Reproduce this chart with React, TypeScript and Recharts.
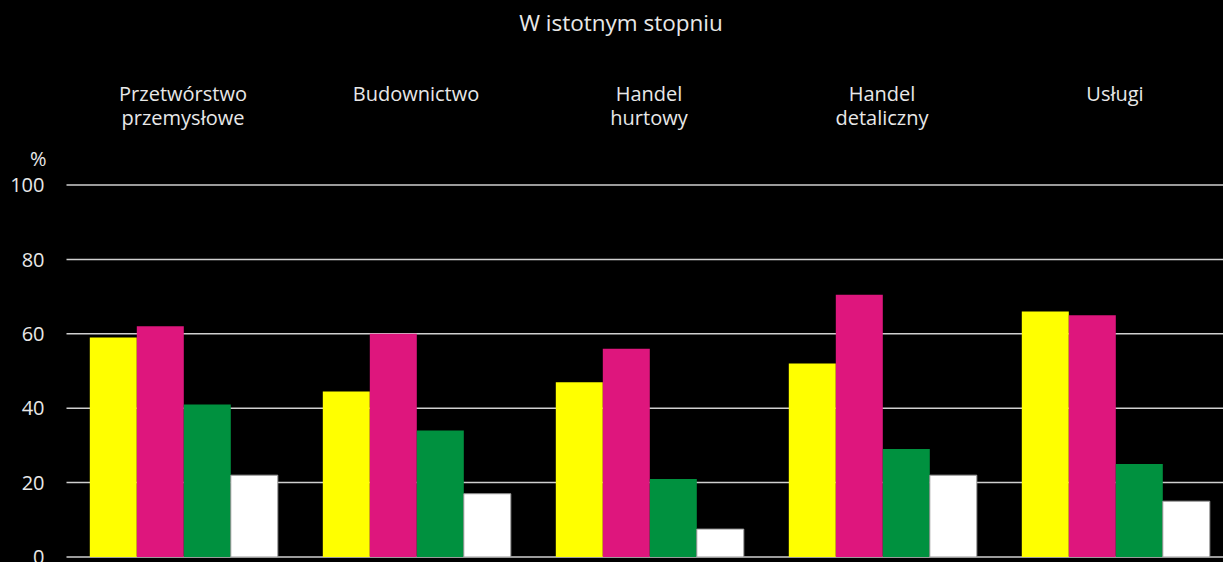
import React from 'react'
import { BarChart, Bar, XAxis, YAxis, CartesianGrid } from 'recharts'

// sectors (labels split into lines as in the original)
const sectors = ['Przetwórstwo\nprzemysłowe', 'Budownictwo', 'Handel\nhurtowy', 'Handel\ndetaliczny', 'Usługi']
const seriesA = [59, 44.5, 47, 52, 66]
const seriesB = [62, 60, 56, 70.5, 65]
const seriesC = [41, 34, 21, 29, 25]
const seriesD = [22, 17, 7.5, 22, 15]
const yTicks = [0, 20, 40, 60, 80, 100]

const data = sectors.map((s, i) => ({ name: s, a: seriesA[i], b: seriesB[i], c: seriesC[i], d: seriesD[i] }))

const font = '"Open Sans", sans-serif'
const txt = '#e8e8e8'

const SectorTick = (props: any) => {
  const { x, payload } = props
  const lines = String(payload.value).split('\n')
  return (
    <text x={x} y={101} textAnchor="middle" fill={txt} fontSize={20} fontFamily={font}>
      {lines.map((l, i) => (
        <tspan key={i} x={x} dy={i === 0 ? 0 : 24}>{l}</tspan>
      ))}
    </text>
  )
}

export default function App() {
  return (
    <div style={{ position: 'fixed', left: 0, top: 0, width: 1223, height: 562, overflow: 'hidden', background: '#000' }}>
      <div style={{ position: 'absolute', left: 0, width: 1242, top: 7, textAlign: 'center', color: txt, fontFamily: font, fontSize: 22.5 }}>
        W istotnym stopniu
      </div>
      <div style={{ position: 'absolute', left: 30, top: 145, color: txt, fontFamily: font, fontSize: 20 }}>%</div>
      <BarChart
        width={1240}
        height={600}
        data={data}
        margin={{ top: 85, right: 8.5, left: 0, bottom: 43 }}
        barCategoryGap="10%"
        barGap={0}
      >
        <CartesianGrid vertical={false} stroke="#cfcfcf" strokeWidth={1.5} />
        <XAxis dataKey="name" orientation="top" height={100} axisLine={false} tickLine={false} tick={<SectorTick />} interval={0} />
        <YAxis
          domain={[0, 100]}
          ticks={yTicks}
          width={66.5}
          axisLine={false}
          tickLine={false}
          tickSize={0}
          tickMargin={22}
          tick={{ fill: txt, fontSize: 20, fontFamily: font }}
        />
        <Bar dataKey="a" fill="#ffff00" isAnimationActive={false} />
        <Bar dataKey="b" fill="#de167d" isAnimationActive={false} />
        <Bar dataKey="c" fill="#00913f" isAnimationActive={false} />
        <Bar dataKey="d" fill="#ffffff" stroke="#9a9a9a" strokeWidth={1} isAnimationActive={false} />
      </BarChart>
    </div>
  )
}
